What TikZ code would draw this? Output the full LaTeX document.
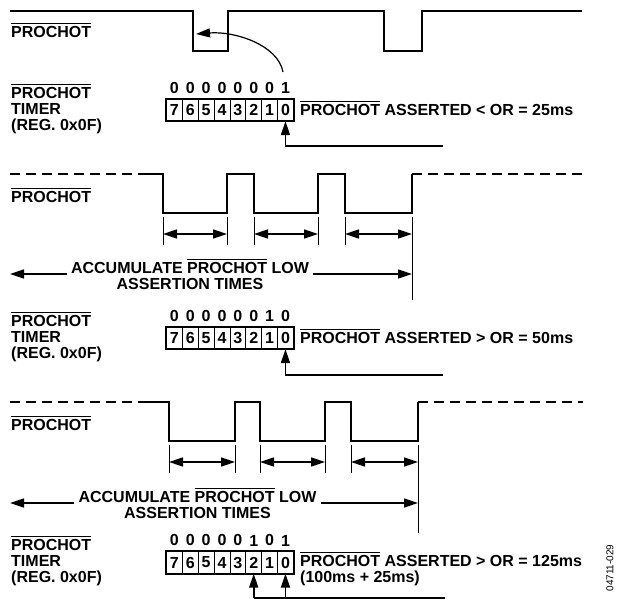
\documentclass[tikz,border=0pt]{standalone}
\usepackage{fontspec}
\setmainfont{Liberation Sans}
\usetikzlibrary{arrows.meta}
\newcommand{\ovl}[1]{\leavevmode\vbox{\hrule height 1pt\kern 2.2pt\hbox{#1}}}
\begin{document}
\begin{tikzpicture}[x=1pt,y=-1pt,
  every node/.style={inner sep=0pt,font=\fontsize{16}{16}\selectfont\bfseries},
  wave/.style={line width=2.4pt},
  dash wave/.style={line width=2.4pt,dash pattern=on 10pt off 6pt},
  cell/.style={draw,line width=0.8pt,minimum width=15.875pt,minimum height=21.5pt,anchor=west},
  lbl/.style={anchor=west,align=left},
  acc/.style={align=center,inner xsep=4pt},
  tick/.style={line width=0.8pt},
  tip/.style={line width=1.6pt,-{Triangle[length=14pt,width=9pt]}},
  both/.style={line width=1.6pt,{Triangle[length=14pt,width=9pt]}-{Triangle[length=14pt,width=9pt]}}]
\useasboundingbox (0,0) rectangle (618,599);

% first pulse train
\draw[wave] (10,11) -- (193,11) -- (193,51) -- (228,51) -- (228,11) -- (384,11) -- (384,51) -- (422,51) -- (422,11) -- (582,11);
\node[lbl] (alab) at (11,30) {\ovl{PROCHOT}};
\node[lbl] (areg) at (11,109) {\ovl{PROCHOT}\\TIMER\\(REG. 0x0F)};
\foreach \b [count=\i from 0] in {7,6,5,4,3,2,1,0}
  \node[cell] (a\b) at (166+15.875*\i,110) {\b};
\draw[line width=2pt] (a7.north west) rectangle (a0.south east);
\foreach \b/\v in {7/0,6/0,5/0,4/0,3/0,2/0,1/0,0/1}
  \node[anchor=south] (av\b) at ([yshift=5pt]a\b.north) {\v};
\node[lbl] (atxt) at (300,108) {\ovl{PROCHOT} ASSERTED < OR = 25ms};
\coordinate (ain) at (443,146);
\draw[tip] (ain) -- (a0.south |- ain) -- (a0.south);
\coordinate (afrom) at (283,72);
\coordinate (ato) at (196,34);
\draw[line width=1.2pt,-{Triangle[length=14pt,width=9pt]}] (afrom) .. controls (278,45) and (235,31) .. (ato);

% second pulse train
\draw[dash wave] (10,174) -- (138,174);
\draw[wave] (138,174) -- (163,174) -- (163,213) -- (227,213) -- (227,174) -- (254,174) -- (254,213) -- (318,213) -- (318,174) -- (345,174) -- (345,213) -- (412,213) -- (412,174);
\draw[dash wave] (412,174) -- (583,174);
\node[lbl] (blab) at (11,195) {\ovl{PROCHOT}};
\foreach \x [count=\i] in {163,227,254,318,345,412} {
  \coordinate (bt\i) at (\x,234);
  \draw[tick] (\x,217) -- (\x,245);
}
\draw[tick] (412,245) -- (412,300);
\draw[both] (bt1) -- (bt2);
\draw[both] (bt3) -- (bt4);
\draw[both] (bt5) -- (bt6);
\node[acc] (bacc) at (190,274) {ACCUMULATE \ovl{PROCHOT} LOW\\ASSERTION TIMES};
\coordinate (bl) at (10,274);
\coordinate (br) at (412,274);
\draw[tip] (bacc.west) -- (bl);
\draw[tip] (bacc.east) -- (br);
\node[lbl] (breg) at (11,337) {\ovl{PROCHOT}\\TIMER\\(REG. 0x0F)};
\foreach \b [count=\i from 0] in {7,6,5,4,3,2,1,0}
  \node[cell] (b\b) at (166+15.875*\i,338) {\b};
\draw[line width=2pt] (b7.north west) rectangle (b0.south east);
\foreach \b/\v in {7/0,6/0,5/0,4/0,3/0,2/0,1/1,0/0}
  \node[anchor=south] (bv\b) at ([yshift=5pt]b\b.north) {\v};
\node[lbl] (btxt) at (300,336) {\ovl{PROCHOT} ASSERTED > OR = 50ms};
\coordinate (bin) at (443,375);
\draw[tip] (bin) -- (b0.south |- bin) -- (b0.south);

% third pulse train
\draw[dash wave] (10,402) -- (138,402);
\draw[wave] (138,402) -- (169,402) -- (169,441) -- (235,441) -- (235,402) -- (260,402) -- (260,441) -- (325,441) -- (325,402) -- (351,402) -- (351,441) -- (418,441) -- (418,402);
\draw[dash wave] (418,402) -- (583,402);
\node[lbl] (clab) at (11,423) {\ovl{PROCHOT}};
\foreach \x [count=\i] in {169,235,260,325,351,418} {
  \coordinate (ct\i) at (\x,462);
  \draw[tick] (\x,445) -- (\x,473);
}
\draw[tick] (418,473) -- (418,533);
\draw[both] (ct1) -- (ct2);
\draw[both] (ct3) -- (ct4);
\draw[both] (ct5) -- (ct6);
\node[acc] (cacc) at (197.5,503) {ACCUMULATE \ovl{PROCHOT} LOW\\ASSERTION TIMES};
\coordinate (cl) at (10,503);
\coordinate (cr) at (418,503);
\draw[tip] (cacc.west) -- (cl);
\draw[tip] (cacc.east) -- (cr);
\node[lbl] (creg) at (11,561) {\ovl{PROCHOT}\\TIMER\\(REG. 0x0F)};
\foreach \b [count=\i from 0] in {7,6,5,4,3,2,1,0}
  \node[cell] (c\b) at (166+15.875*\i,562.5) {\b};
\draw[line width=2pt] (c7.north west) rectangle (c0.south east);
\foreach \b/\v in {7/0,6/0,5/0,4/0,3/0,2/1,1/0,0/1}
  \node[anchor=south] (cv\b) at ([yshift=5pt]c\b.north) {\v};
\node[lbl] (ctxt) at (300,569) {\ovl{PROCHOT} ASSERTED > OR = 125ms\\(100ms + 25ms)};
\coordinate (cin) at (445,598);
\draw[line width=1.6pt] (cin) -- (c2.south |- cin);
\draw[tip] (c2.south |- cin) -- (c2.south);
\draw[tip] (c0.south |- cin) -- (c0.south);

\node[rotate=90,font=\fontsize{10}{10}\selectfont] (fignum) at (610,568) {04711-029};
\end{tikzpicture}
\end{document}
